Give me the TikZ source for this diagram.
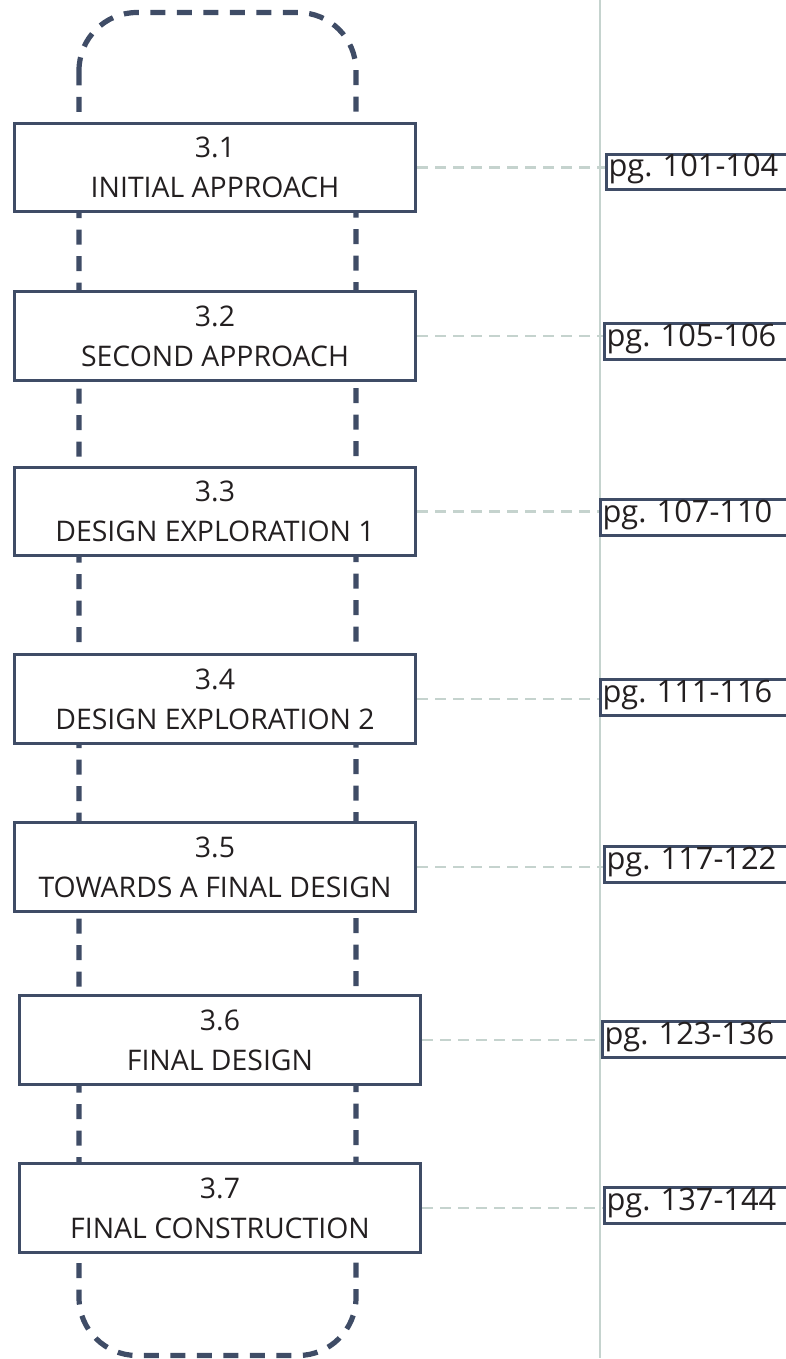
\documentclass[tikz,border=0pt]{standalone}
\usepackage{fontspec}
\setmainfont{Open Sans}
\frenchspacing
\definecolor{navy}{HTML}{3F4C66}
\definecolor{txt}{HTML}{231F20}
\definecolor{pale}{HTML}{C5D3CE}
\tikzset{
  outline/.style={draw=navy, line width=5.2pt, dash pattern=on 15pt off 11.5pt, rounded corners=58pt},
  secbox/.style={draw=navy, fill=white, line width=3pt, minimum width=401pt, minimum height=88.5pt,
    inner sep=0pt, align=center, font=\fontsize{28.4}{40}\selectfont, text=txt},
  pgbox/.style={draw=navy, fill=white, line width=3pt, anchor=base west, inner xsep=2pt, inner ysep=0pt,
    text height=22.5pt, text depth=13pt, text width=200pt, align=left,
    font=\fontsize{30.8}{36}\selectfont, text=txt},
  link/.style={draw=pale, line width=2.4pt, dash pattern=on 11pt off 7pt},
  guide/.style={draw=pale, line width=1.8pt}
}
\begin{document}
\begin{tikzpicture}[x=1pt,y=1pt]
\useasboundingbox (0,0) rectangle (785,-1359);
\coordinate (gtop) at (600,0);
\coordinate (gbot) at (600,-1358);
\draw[guide] (gtop) -- (gbot);
\draw[outline] (79,-12.5) rectangle (356,-1355.5);

\node[secbox] (b1) at (215,-167.5) {3.1\\INITIAL APPROACH};
\node[secbox] (b2) at (215,-336) {3.2\\SECOND APPROACH};
\node[secbox] (b3) at (215,-511.5) {3.3\\DESIGN EXPLORATION 1};
\node[secbox] (b4) at (215,-699) {3.4\\DESIGN EXPLORATION 2};
\node[secbox] (b5) at (215,-867) {3.5\\TOWARDS A FINAL DESIGN};
\node[secbox] (b6) at (220,-1040) {3.6\\FINAL DESIGN};
\node[secbox] (b7) at (220,-1208) {3.7\\FINAL CONSTRUCTION};

\node[pgbox] (p1) at (605,-177) {pg. 101-104};
\node[pgbox] (p2) at (603,-346) {pg. 105-106};
\node[pgbox] (p3) at (599,-522) {pg. 107-110};
\node[pgbox] (p4) at (599,-702) {pg. 111-116};
\node[pgbox] (p5) at (603,-869) {pg. 117-122};
\node[pgbox] (p6) at (601,-1044) {pg. 123-136};
\node[pgbox] (p7) at (603,-1210) {pg. 137-144};

\foreach \i in {1,...,7}{
  \draw[link] (b\i.east) -- (b\i.east -| p\i.west);
}
\end{tikzpicture}
\end{document}
